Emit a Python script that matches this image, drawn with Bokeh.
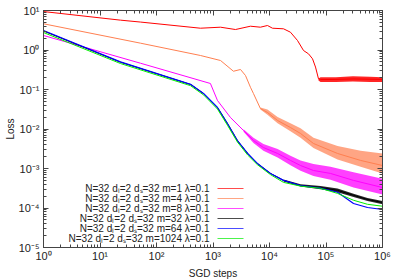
from bokeh.plotting import figure
from bokeh.models import LogAxis, CustomJSTickFormatter, Label, Arrow, LogTicker
from bokeh.embed import file_html
from bokeh.resources import INLINE

# ---- data ----
red_steps = [1, 23, 52, 600, 1360, 2500, 4600, 6900, 9200, 11300, 17700, 23500, 31300,
             40000, 49000, 57700, 65200, 73600, 80000, 150000, 300000, 600000, 1000000]
red_loss = [9.4, 5.7, 5.1, 3.56, 3.78, 3.3, 4.0, 3.78, 4.17, 3.56, 3.44, 2.82, 1.74,
            0.97, 0.80, 0.60, 0.37, 0.187, 0.178, 0.18, 0.185, 0.182, 0.18]
red_band_steps = [73600, 80000, 150000, 300000, 600000, 1000000]
red_band_low = [0.17, 0.155, 0.155, 0.16, 0.155, 0.155]
red_band_high = [0.19, 0.205, 0.205, 0.215, 0.21, 0.205]

or_steps = [1, 52, 600, 1360, 2300, 3070, 3760, 4600, 5200, 6900, 9200, 13900, 23500,
            35400, 60000, 160000, 410000, 1000000]
or_loss = [4.61, 1.49, 0.726, 0.542, 0.29, 0.321, 0.226, 0.114, 0.079, 0.033, 0.0262,
           0.0164, 0.0109, 0.0077, 0.0043, 0.0024, 0.0016, 0.00119]
or_band_steps = [6900, 9200, 13900, 23500, 35400, 60000, 160000, 410000, 1000000]
or_band_low = [0.031, 0.023, 0.014, 0.0088, 0.006, 0.0033, 0.0017, 0.0011, 0.00075]
or_band_high = [0.035, 0.031, 0.02, 0.014, 0.0105, 0.006, 0.0037, 0.0028, 0.0024]

mg_steps = [1, 52, 900, 1200, 2040, 3470, 5200, 7800, 13900, 23500, 35400, 60000,
            120000, 307000, 1000000]
mg_loss = [2.33, 0.463, 0.142, 0.0527, 0.0195, 0.00916, 0.00511, 0.0034, 0.0024, 0.0016,
           0.00119, 0.00089, 0.00075, 0.0005, 0.00033]
mg_band_steps = [3470, 5200, 7800, 13900, 23500, 35400, 60000, 120000, 307000, 1000000]
mg_band_low = [0.0085, 0.0044, 0.0028, 0.0019, 0.0012, 0.00088, 0.00065, 0.00052, 0.00033, 0.00022]
mg_band_high = [0.0098, 0.006, 0.0042, 0.0031, 0.0021, 0.0016, 0.0013, 0.0011, 0.0008, 0.00055]

k_steps = [1, 23, 400, 680, 1200, 1800, 2700, 4100, 6100, 10400, 17700, 35400, 80000,
           160000, 307000, 543000, 1000000]
bk_loss = [3.03, 0.491, 0.134, 0.0792, 0.035, 0.0138, 0.00511, 0.0024, 0.00134, 0.00075,
           0.0005, 0.00037, 0.00033, 0.00028, 0.00021, 0.000164, 0.000138]
bk_band_steps = [17700, 35400, 80000, 160000, 307000, 543000, 1000000]
bk_band_low = [0.00047, 0.00035, 0.0003, 0.00025, 0.00019, 0.00015, 0.000125]
bk_band_high = [0.00053, 0.0004, 0.00036, 0.00031, 0.00023, 0.00018, 0.00015]
bl_loss = [3.12, 0.50, 0.135, 0.079, 0.035, 0.0138, 0.0051, 0.0024, 0.00134, 0.00075,
           0.0005, 0.00037, 0.00032, 0.00025, 0.00013, 0.000103, 0.0000917]
gr_loss = [2.77, 0.455, 0.125, 0.073, 0.032, 0.0125, 0.0047, 0.0022, 0.00125, 0.0007,
           0.000445, 0.000358, 0.000315, 0.000234, 0.000157, 0.000124, 0.000111]

labels = ["N=32 d\u2097=2 d\u209b=32 m=1 \u03bb=0.1",
          "N=32 d\u2097=2 d\u209b=32 m=4 \u03bb=0.1",
          "N=32 d\u2097=2 d\u209b=32 m=8 \u03bb=0.1",
          "N=32 d\u2097=2 d\u209b=32 m=32 \u03bb=0.1",
          "N=32 d\u2097=2 d\u209b=32 m=64 \u03bb=0.1",
          "N=32 d\u2097=2 d\u209b=32 m=1024 \u03bb=0.1"]
colors = ["#ff0000", "#ff7f50", "#ff00ff", "#000000", "#0000ff", "#00ee00"]

FONT = "Liberation Sans"
FW, FH = 339, 237

p = figure(frame_width=FW, frame_height=FH, x_axis_type="log", y_axis_type="log",
           x_range=(1, 1e6), y_range=(1e-5, 10), output_backend="svg",
           toolbar_location=None, min_border_left=43, min_border_right=9,
           min_border_top=10, min_border_bottom=32)
p.xgrid.visible = False
p.ygrid.visible = False
p.outline_line_color = "#444444"
p.background_fill_color = "white"
p.border_fill_color = "white"

sup_code = """
const e = Math.round(Math.log10(tick));
const sup = {'-':'\u207b','0':'\u2070','1':'\u00b9','2':'\u00b2','3':'\u00b3','4':'\u2074',
             '5':'\u2075','6':'\u2076','7':'\u2077','8':'\u2078','9':'\u2079'};
return '10' + String(e).split('').map(c => sup[c]).join('');
"""
empty_code = "return '';"

def style_axis(ax, show_labels):
    ax.ticker = LogTicker(num_minor_ticks=10)
    ax.formatter = CustomJSTickFormatter(code=sup_code if show_labels else empty_code)
    ax.major_tick_in = 5
    ax.major_tick_out = 0
    ax.minor_tick_in = 3
    ax.minor_tick_out = 0
    ax.axis_line_color = "#444444"
    ax.major_tick_line_color = "#444444"
    ax.minor_tick_line_color = "#444444"
    ax.major_label_text_font = FONT
    ax.major_label_text_font_size = "11px"
    ax.major_label_text_color = "#222222"
    ax.major_label_standoff = 2
    ax.axis_label_text_font = FONT
    ax.axis_label_text_font_size = "10px"
    ax.axis_label_text_font_style = "normal"
    ax.axis_label_text_color = "#222222"
    ax.axis_label_standoff = 3

style_axis(p.xaxis[0], True)
style_axis(p.yaxis[0], True)
p.xaxis[0].axis_label = "SGD steps"
p.yaxis[0].axis_label = "Loss"
p.yaxis[0].major_label_standoff = 4
p.yaxis[0].axis_label_standoff = 0

top = LogAxis()
right = LogAxis()
style_axis(top, False)
style_axis(right, False)
for ax in (top, right):
    ax.major_label_standoff = 0
    ax.major_label_text_font_size = "0px"
p.add_layout(top, "above")
p.add_layout(right, "right")

# noise bands and curves
p.varea(x=red_band_steps, y1=red_band_low, y2=red_band_high, fill_color=colors[0], fill_alpha=0.85)
p.line(red_steps, red_loss, line_color=colors[0], line_width=1)
p.varea(x=or_band_steps, y1=or_band_low, y2=or_band_high, fill_color=colors[1], fill_alpha=0.7)
p.line(or_steps, or_loss, line_color=colors[1], line_width=1)
p.varea(x=mg_band_steps, y1=mg_band_low, y2=mg_band_high, fill_color=colors[2], fill_alpha=0.75)
p.line(mg_steps, mg_loss, line_color=colors[2], line_width=1)
p.varea(x=bk_band_steps, y1=bk_band_low, y2=bk_band_high, fill_color=colors[3], fill_alpha=0.85)
p.line(k_steps, bk_loss, line_color=colors[3], line_width=1)
p.line(k_steps, bl_loss, line_color=colors[4], line_width=1.2)
p.line(k_steps, gr_loss, line_color=colors[5], line_width=1)

# legend (gnuplot style: text right-aligned, sample to the right)
for i, (lab, col) in enumerate(zip(labels, colors)):
    yy = 59 - 10 * i
    p.add_layout(Label(x=166, y=yy, x_units="screen", y_units="screen", text=lab,
                       text_align="right", text_baseline="middle",
                       text_font=FONT, text_font_size="10px", text_color="#222222"))
    p.add_layout(Arrow(x_start=174, y_start=yy, x_end=200, y_end=yy,
                       start_units="screen", end_units="screen", end=None,
                       line_color=col, line_width=1, line_alpha=0.7))

open("out.html", "w").write(file_html(p, INLINE))
